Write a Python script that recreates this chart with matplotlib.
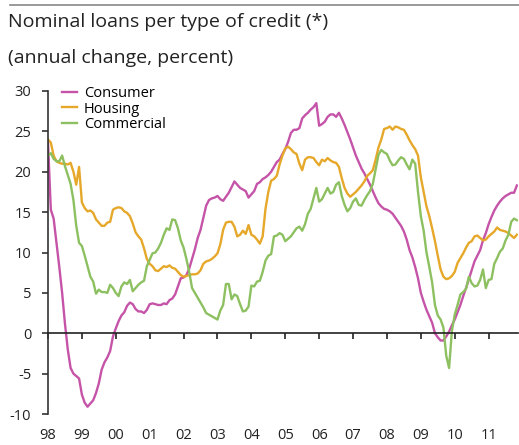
import numpy as np
import pandas as pd
import matplotlib
matplotlib.use('Agg')
import matplotlib.pyplot as plt

plt.rcParams['font.family'] = ['Open Sans', 'DejaVu Sans']

# monthly data, Jan 1998 - Nov 2011
months = pd.date_range('1998-01-01', periods=167, freq='MS')

consumer = [
    23.6, 15.3, 14.2, 11.2, 8.2, 5.0, 1.2, -2.0, -4.3, -5.0, -5.3, -5.6,
    -7.6, -8.6, -9.1, -8.7, -8.3, -7.4, -6.2, -4.5, -3.6, -3.0, -2.2, -0.4,
    0.6, 1.5, 2.2, 2.6, 3.4, 3.8, 3.6, 3.0, 2.7, 2.7, 2.5, 2.9,
    3.6, 3.7, 3.6, 3.5, 3.5, 3.7, 3.6, 4.1, 4.3, 4.8, 5.8, 6.8,
    6.9, 7.2, 8.0, 9.2, 10.4, 11.8, 12.8, 14.3, 15.8, 16.5, 16.7, 16.8,
    17.0, 16.6, 16.4, 16.9, 17.4, 18.1, 18.8, 18.4, 18.0, 17.8, 17.6, 16.8,
    17.2, 17.6, 18.5, 18.7, 19.1, 19.3, 19.6, 20.0, 20.6, 21.2, 21.5, 22.2,
    22.8, 23.7, 24.8, 25.2, 25.2, 25.4, 26.6, 27.0, 27.3, 27.7, 28.0, 28.5,
    25.7, 25.9, 26.2, 26.8, 27.1, 27.1, 26.8, 27.3, 26.6, 25.8, 24.9, 24.0,
    23.0, 22.0, 21.2, 20.4, 19.8, 19.1, 18.4, 17.6, 16.8, 16.1, 15.7, 15.4,
    15.3, 15.1, 14.8, 14.3, 13.8, 13.3, 12.6, 11.6, 10.3, 9.4, 8.2, 6.8,
    5.0, 3.9, 2.9, 2.1, 1.3, 0.0, -0.5, -0.9, -0.9, -0.4, 0.2, 1.0,
    1.7, 2.6, 3.5, 4.6, 5.6, 6.7, 7.8, 8.9, 9.6, 10.3, 11.5, 12.4,
    13.5, 14.4, 15.2, 15.8, 16.3, 16.7, 17.0, 17.2, 17.4, 17.4, 18.3]

housing = [
    24.0, 23.6, 22.0, 21.3, 21.1, 21.0, 21.0, 20.9, 21.1, 20.0, 18.4, 20.6,
    16.2, 15.5, 15.1, 15.2, 14.9, 14.1, 13.7, 13.3, 13.3, 13.7, 13.8, 15.3,
    15.5, 15.6, 15.5, 15.1, 14.9, 14.5, 13.6, 12.5, 12.0, 11.6, 10.5, 9.2,
    8.6, 8.3, 7.8, 7.7, 8.0, 8.3, 8.2, 8.4, 8.1, 8.0, 7.6, 7.2,
    7.0, 7.1, 7.2, 7.3, 7.3, 7.4, 7.8, 8.6, 8.9, 9.0, 9.2, 9.5,
    9.9, 11.0, 12.8, 13.7, 13.8, 13.8, 13.2, 12.0, 12.2, 12.7, 12.3, 13.4,
    12.2, 12.0, 11.6, 11.1, 12.0, 15.4, 17.5, 18.9, 19.1, 19.5, 20.9, 22.0,
    22.9, 23.1, 22.8, 22.4, 22.2, 21.0, 20.2, 21.5, 21.8, 21.8, 21.7, 21.2,
    20.8, 21.5, 21.3, 21.7, 21.4, 21.2, 21.1, 20.6, 19.2, 18.0, 17.3, 16.9,
    17.2, 17.5, 17.9, 18.3, 18.8, 19.5, 19.8, 20.2, 21.5, 23.0, 24.0, 25.3,
    25.4, 25.6, 25.2, 25.6, 25.5, 25.3, 25.2, 24.6, 23.9, 23.3, 22.8, 22.0,
    19.3, 17.5, 15.7, 14.5, 13.0, 11.4, 9.6, 7.9, 7.0, 6.7, 6.8, 7.1,
    7.6, 8.7, 9.3, 9.9, 10.6, 11.2, 11.4, 12.0, 12.1, 11.8, 11.5, 11.6,
    12.0, 12.3, 12.6, 13.1, 12.8, 12.7, 12.6, 12.4, 12.1, 11.8, 12.2]

commercial = [
    22.0, 22.3, 21.6, 21.3, 21.3, 22.0, 20.7, 19.6, 18.5, 16.5, 13.3, 11.2,
    10.8, 9.6, 8.3, 7.0, 6.4, 4.9, 5.4, 5.1, 5.1, 5.0, 6.0, 5.6,
    5.0, 4.6, 5.8, 6.3, 6.1, 6.6, 5.2, 5.6, 6.0, 6.3, 6.5, 8.3,
    9.1, 9.9, 10.0, 10.5, 11.2, 12.2, 13.0, 12.8, 14.1, 14.0, 13.0, 11.5,
    10.6, 9.2, 7.6, 5.6, 5.0, 4.4, 3.8, 3.2, 2.5, 2.3, 2.1, 1.9,
    1.7, 2.8, 3.5, 6.1, 6.1, 4.2, 4.8, 4.6, 3.6, 2.7, 2.8, 3.3,
    5.9, 5.8, 6.4, 6.5, 7.6, 9.0, 9.6, 9.8, 12.0, 12.1, 12.4, 12.2,
    11.4, 11.7, 12.0, 12.5, 13.0, 13.2, 12.7, 13.5, 14.8, 15.4, 16.7, 18.0,
    16.3, 16.6, 17.3, 18.0, 17.3, 17.5, 18.4, 18.7, 17.0, 15.9, 15.1, 15.5,
    16.3, 16.7, 15.9, 15.8, 16.5, 17.1, 17.6, 18.5, 20.3, 22.1, 22.7, 22.4,
    22.2, 21.4, 20.8, 20.9, 21.4, 21.8, 21.6, 20.9, 20.3, 21.5, 21.0, 17.5,
    14.5, 12.7, 10.0, 8.2, 6.3, 3.5, 2.2, 1.7, 0.7, -2.8, -4.3, 0.3,
    2.3, 3.5, 4.8, 5.1, 5.5, 7.0, 6.2, 5.8, 5.9, 6.6, 7.9, 5.6,
    6.6, 6.7, 8.6, 9.3, 10.1, 10.5, 11.5, 12.2, 13.8, 14.2, 14.0]

years = list(range(1998, 2012))
year_labels = ['%02d' % (y % 100) for y in years]
yticks = [-10, -5, 0, 5, 10, 15, 20, 25, 30]

t = months.year + (months.month - 1) / 12.0

fig = plt.figure(figsize=(5.19, 4.45), dpi=100)
ax = fig.add_axes([48 / 519, 31 / 445, 470 / 519, 323 / 445])

ax.plot(t, consumer, color='#C554A8', lw=1.7, label='Consumer')
ax.plot(t, housing, color='#E6A82A', lw=1.7, label='Housing')
ax.plot(t, commercial, color='#8DC060', lw=1.7, label='Commercial')

ax.set_xlim(1998, 1998 + 166.4 / 12)
ax.set_ylim(-10, 30)

for s in ['top', 'right']:
    ax.spines[s].set_visible(False)
ax.spines['left'].set_color('#333333')
ax.spines['left'].set_linewidth(1.2)
ax.spines['bottom'].set_position(('data', 0))
ax.spines['bottom'].set_color('#222222')
ax.spines['bottom'].set_linewidth(1.2)

ax.set_yticks(yticks)
ax.set_yticklabels([str(v) for v in yticks])
ax.tick_params(axis='y', direction='out', length=4, width=1.2, color='#333333',
               labelsize=10.5, pad=8, labelcolor='#222222')
ax.set_xticks(years)
ax.tick_params(axis='x', direction='out', length=4, width=1.2, color='#222222',
               labelbottom=False)

# year labels along the bottom edge
sec = ax.secondary_xaxis('bottom')
sec.set_xticks(years)
sec.set_xticklabels(year_labels)
sec.spines['bottom'].set_visible(False)
sec.tick_params(length=0, pad=10, labelsize=10.5, labelcolor='#222222')

ax.legend(loc='upper left', bbox_to_anchor=(0.03, 1.016), frameon=False,
          fontsize=10.5, handlelength=1.05, handletextpad=0.45,
          labelspacing=0.05, borderpad=0, borderaxespad=0)

# rule above the title
fig.add_artist(plt.Line2D([10 / 519, 1], [1 - 5 / 445, 1 - 5 / 445], color='#888888', lw=1.2))
fig.text(8 / 519, 1 - 22 / 445, 'Nominal loans per type of credit (*)',
         fontsize=14, va='center', ha='left', color='#222222')
fig.text(8 / 519, 1 - 58 / 445, '(annual change, percent)',
         fontsize=14, va='center', ha='left', color='#222222')

fig.savefig('out.png', dpi=100)
